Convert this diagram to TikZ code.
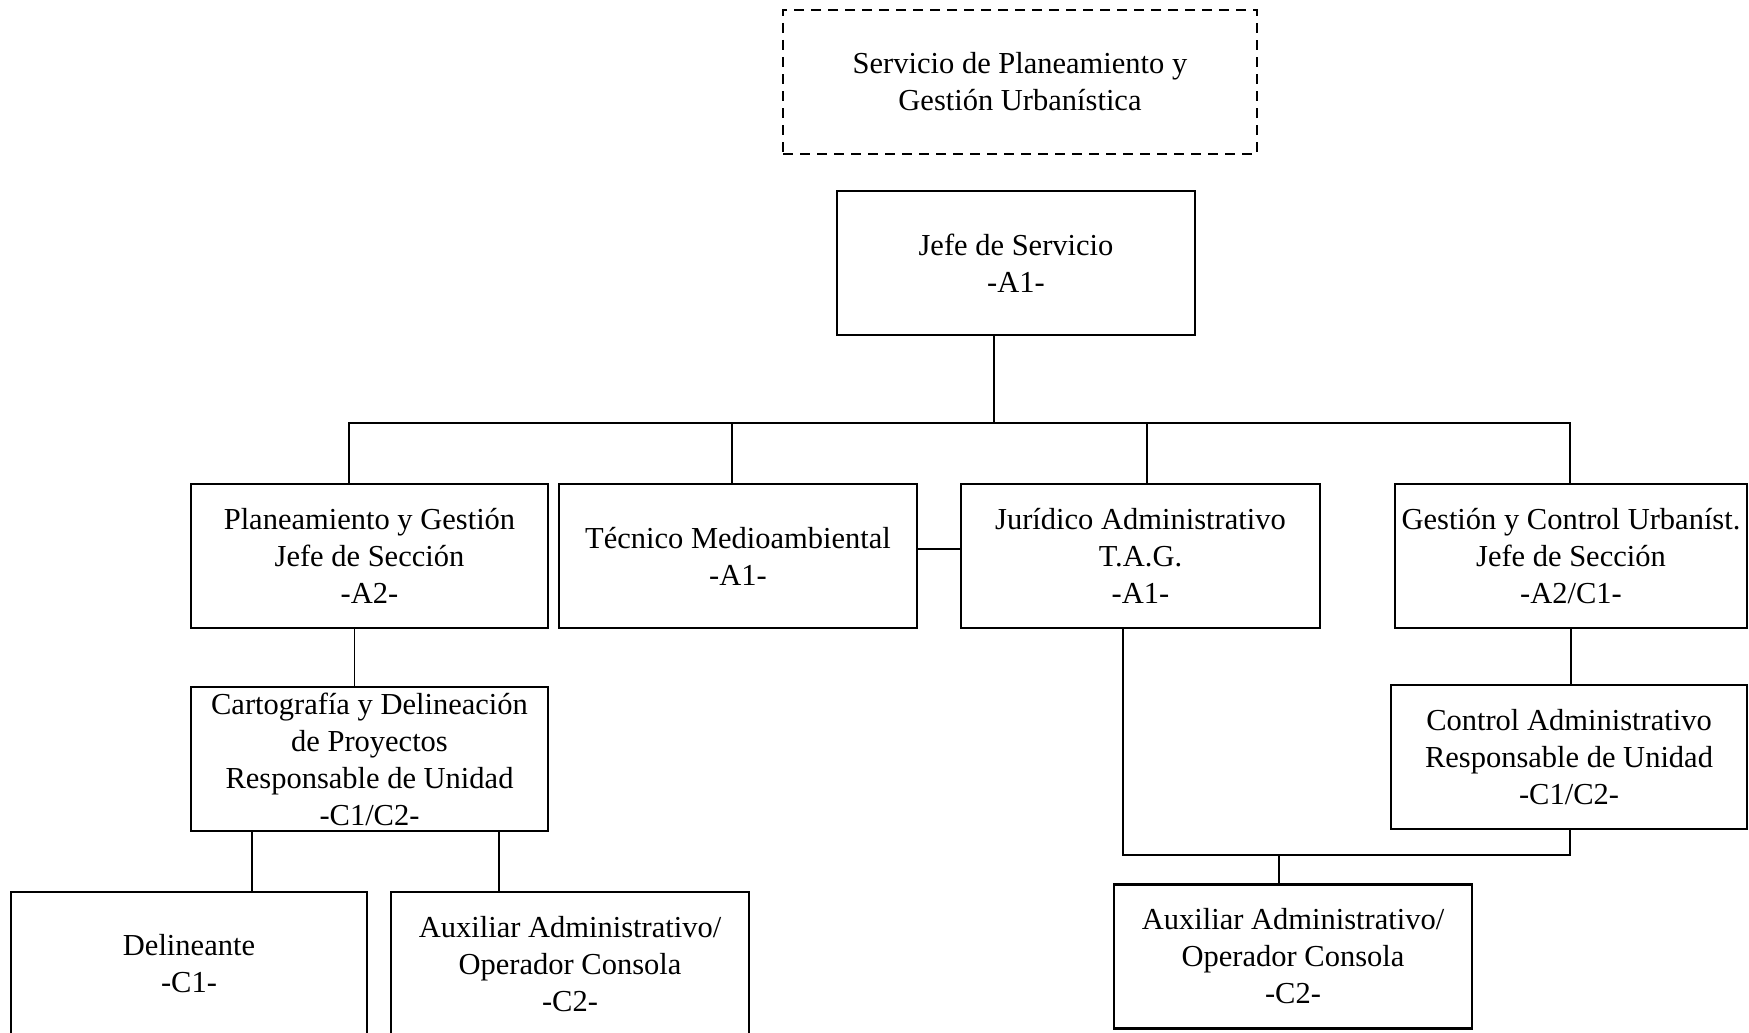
\documentclass[tikz,border=0pt]{standalone}
\usepackage{fontspec}
\setmainfont{Liberation Serif}
\begin{document}
\begin{tikzpicture}[x=1pt,y=-1pt,
  box/.style={draw, line width=2.6pt, rectangle, inner sep=0pt, minimum width=358pt, minimum height=144pt, align=center, font=\fontsize{30.5}{37}\selectfont},
  dbox/.style={box, dash pattern=on 10pt off 7pt, line width=2.4pt},
  conn/.style={line width=1.7pt}]
\useasboundingbox (0,0) rectangle (1749,1033);
\fill[white] (0,0) rectangle (1749,1033);

\node[dbox, minimum width=474pt] (svc) at (1020,82) {Servicio de Planeamiento y\\Gestión Urbanística};
\node[box] (jefe) at (1016,263) {Jefe de Servicio\\-A1-};

\node[box, minimum width=357pt] (plan) at (369.5,556) {Planeamiento y Gestión\\Jefe de Sección\\-A2-};
\node[box] (tec) at (738,556) {Técnico Medioambiental\\-A1-};
\node[box, minimum width=359pt] (jur) at (1140.5,556) {Jurídico Administrativo\\T.A.G.\\-A1-};
\node[box, minimum width=352pt] (gest) at (1571,556) {Gestión y Control Urbaníst.\\Jefe de Sección\\-A2/C1-};

\node[box, minimum width=357pt] (cart) at (369.5,759) {Cartografía y Delineación\\de Proyectos\\Responsable de Unidad\\-C1/C2-};
\node[box, minimum width=356pt] (ctrl) at (1569,757) {Control Administrativo\\Responsable de Unidad\\-C1/C2-};

\node[box, minimum width=356pt] (del) at (189,964) {Delineante\\-C1-};
\node[box] (auxL) at (570,964) {Auxiliar Administrativo/\\Operador Consola\\-C2-};
\node[box] (auxR) at (1293,956.5) {Auxiliar Administrativo/\\Operador Consola\\-C2-};

% main bus
\coordinate (busL) at (349,423);
\coordinate (busR) at (1570,423);
\coordinate (jtop) at (994,423);
\draw[conn] (jtop |- jefe.south) -- (jtop);
\draw[conn] (busL |- plan.north) -- (busL) -- (busR) -- (busR |- gest.north);
\draw[conn] ([xshift=-6pt]tec.north) -- ([xshift=-6pt]tec.north |- busL);
\draw[conn] ([xshift=6.5pt]jur.north) -- ([xshift=6.5pt]jur.north |- busL);
\draw[conn] ([yshift=7pt]tec.east) -- ([yshift=7pt]jur.west);

% left branch
\draw[conn] ([xshift=-15pt]plan.south) -- ([xshift=-15pt]cart.north);
\draw[conn] ([xshift=63pt]del.north) -- ([xshift=63pt]del.north |- cart.south);
\draw[conn] ([xshift=-71pt]auxL.north) -- ([xshift=-71pt]auxL.north |- cart.south);

% right branch
\draw[conn] (gest.south) -- (gest.south |- ctrl.north);
\coordinate (jb) at (1123,855);
\coordinate (cb) at (1570,855);
\draw[conn] (jb |- jur.south) -- (jb) -- (cb) -- (cb |- ctrl.south);
\draw[conn] ([xshift=-14pt]auxR.north) -- ([xshift=-14pt]auxR.north |- jb);
\end{tikzpicture}
\end{document}
